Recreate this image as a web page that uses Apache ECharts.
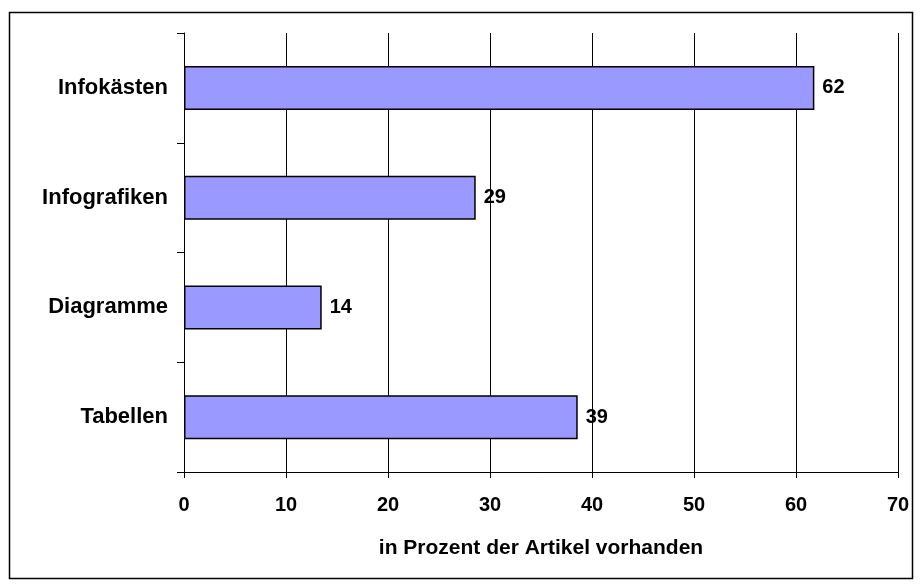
<!DOCTYPE html>
<html>
<head>
<meta charset="utf-8">
<script src="https://cdn.jsdelivr.net/npm/echarts@6/dist/echarts.min.js"></script>
<style>
html, body { margin: 0; padding: 0; background: #fff; }
#chart { width: 922px; height: 588px; }
</style>
</head>
<body>
<div id="chart"></div>
<script>
// Anteil der Artikel (Prozent)
const categories = ['Infokästen', 'Infografiken', 'Diagramme', 'Tabellen']
const values = [61.8, 28.6, 13.5, 38.6]
const axisTitle = 'in Prozent der Artikel vorhanden'

const font = 'Liberation Sans, Arial, sans-serif'
const chart = echarts.init(document.getElementById('chart'))

chart.setOption({
  animation: false,
  graphic: [{
    type: 'rect',
    shape: { x: 9.5, y: 12.5, width: 903, height: 566 },
    style: { fill: 'none', stroke: '#000', lineWidth: 1.5 }
  }],
  grid: { left: 184, right: 24, top: 33, bottom: 116 },
  xAxis: {
    type: 'value',
    min: 0,
    max: 70,
    interval: 10,
    name: axisTitle,
    nameLocation: 'middle',
    nameGap: 66,
    nameTextStyle: { fontFamily: font, fontWeight: 'bold', fontSize: 21, color: '#000' },
    axisLine: { show: true, lineStyle: { color: '#000', width: 1 } },
    axisTick: { show: true, length: 6, lineStyle: { color: '#000' } },
    axisLabel: { fontFamily: font, fontWeight: 'bold', fontSize: 20, color: '#000', margin: 23 },
    splitLine: { show: true, lineStyle: { color: '#000', width: 1 } }
  },
  yAxis: {
    type: 'category',
    data: categories,
    inverse: true,
    axisLine: { show: true, lineStyle: { color: '#000', width: 1 } },
    axisTick: { show: true, length: 7, lineStyle: { color: '#000' } },
    axisLabel: { fontFamily: font, fontWeight: 'bold', fontSize: 22, color: '#000', margin: 16 }
  },
  series: [{
    type: 'bar',
    data: values,
    barWidth: 44,
    itemStyle: { color: '#9999FF', borderColor: '#000', borderWidth: 1.5 },
    label: {
      show: true,
      position: 'right',
      distance: 8,
      formatter: p => Math.round(p.value),
      fontFamily: font,
      fontWeight: 'bold',
      fontSize: 20,
      color: '#000'
    }
  }]
})
</script>
</body>
</html>
